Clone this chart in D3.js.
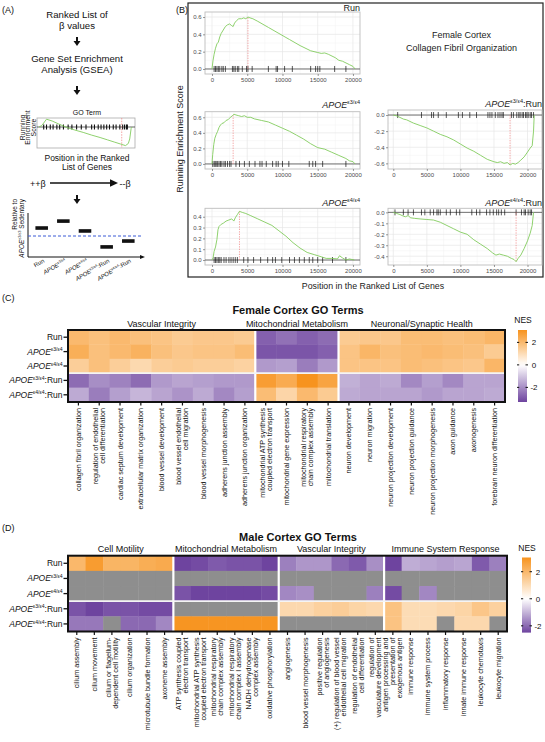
<!DOCTYPE html>
<html><head><meta charset="utf-8">
<script src="https://cdn.jsdelivr.net/npm/d3@7/dist/d3.min.js"></script>
<style>
html,body{margin:0;padding:0;background:#fff;}
svg{display:block;font-family:"Liberation Sans",Arial,Helvetica,sans-serif;}
</style></head><body>
<svg id="fig" width="545" height="742"></svg>
<script>
// ================= DATA =================
// Row labels shared by heatmaps (C, D)
const rowDefs = [{pre:"Run"},{apoe:"ε3/ε4"},{apoe:"ε4/ε4"},{apoe:"ε3/ε4",suf:":Run"},{apoe:"ε4/ε4",suf:":Run"}];

// Panel C – Female cortex
const femaleGroups = ["Vascular Integrity","Mitochondrial Metabolism","Neuronal/Synaptic Health"];
const femaleGroupSizes = [9,4,8];
const femaleTerms = [
 "collagen fibril organization","regulation of endothelial\ncell differentiation","cardiac septum development",
 "extracellular matrix organization","blood vessel development","blood vessel endothelial\ncell migration",
 "blood vessel morphogenesis","adherens junction assembly","adherens junction organization",
 "mitochondrial ATP synthesis\ncoupled electron transport","mitochondrial gene expression",
 "mitochondrial respiratory\nchain complex assembly","mitochondrial translation",
 "neuron development","neuron migration","neuron projection development","neuron projection guidance",
 "neuron projection morphogenesis","axon guidance","axonogenesis","forebrain neuron differentiation"];
const femaleRun    = [2.0,1.8,2.0,1.8,1.7,1.5,1.6,1.6,1.5, -2.8,-2.5,-2.8,-2.6, 1.5,1.6,1.6,1.9,1.9,1.8,1.9,2.1];
const femaleE34    = [2.3,1.8,2.0,2.2,1.8,1.6,1.7,1.7,1.9, -3.0,-3.0,-3.0,-2.8, 1.7,2.1,1.8,1.9,2.0,1.9,1.8,1.5];
const femaleE44    = [1.4,1.8,1.4,1.1,1.4,1.5,1.4,1.4,1.3, -1.8,-1.7,-2.3,-1.8, 1.7,1.7,1.7,1.9,1.8,1.7,1.6,2.1];
const femaleE34Run = [-2.6,-2.0,-2.2,-2.6,-1.8,-1.6,-1.7,-1.8,-1.8, 2.8,2.4,3.1,2.6, -1.4,-1.6,-1.5,-2.1,-1.7,-2.1,-1.6,-1.6];
const femaleE44Run = [-1.5,-2.3,-1.7,-1.3,-1.6,-1.9,-1.5,-2.1,-1.7, 1.9,1.2,2.0,1.5, -1.5,-1.6,-1.6,-1.6,-1.8,-1.6,-1.6,-1.5];
const femaleNESRange = [-3.3, 3.1];

// Panel D – Male cortex (null = not significant, grey)
const maleGroups = ["Cell Motility","Mitochondrial Metabolism","Vascular Integrity","Immune System Response"];
const maleGroupSizes = [6,6,6,7];
const maleTerms = [
 "cilium assembly","cilium movement","cilium or flagellum-\ndependent cell motility","cilium organization",
 "microtubule bundle formation","axoneme assembly",
 "ATP synthesis coupled\nelectron transport","mitochondrial ATP synthesis\ncoupled electron transport",
 "mitochondrial respiratory\nchain complex assembly","mitochondrial respiratory\nchain complex I assembly",
 "NADH dehydrogenase\ncomplex assembly","oxidative phosphorylation",
 "angiogenesis","blood vessel morphogenesis","positive regulation\nof angiogenesis",
 "(+) regulation of blood vessel\nendothelial cell migration","regulation of endothelial\ncell differentiation",
 "regulation of\nvasculature development",
 "antigen processing and\npresentation of\nexogenous antigen","immune response","immune system process",
 "inflammatory response","innate immune response","leukocyte chemotaxis","leukocyte migration"];
const maleRun    = [2.0,2.8,2.1,2.1,2.3,2.4, -2.6,-2.4,-2.2,-2.3,-2.3,-2.7, -1.7,-1.4,-1.4,-2.0,-2.2,-1.5, -2.5,-1.1,-1.2,-1.3,-1.2,-2.2,-1.7];
const maleE34    = [null,null,null,null,null,null, null,null,null,null,null,null, null,null,null,null,null,null, null,null,null,null,null,null,null];
const maleE44    = [null,null,null,null,null,null, -2.3,-2.5,-2.5,-2.6,-2.6,-2.4, -1.6,-1.5,null,null,null,-1.7, -2.4,null,-1.6,null,null,null,null];
const maleE34Run = [-2.3,-2.6,-2.3,-2.3,-2.4,-2.4, null,null,null,null,null,null, 1.1,1.1,1.3,1.4,1.2,1.1, 1.7,1.0,1.0,1.1,1.2,1.6,1.3];
const maleE44Run = [-1.8,-1.8,null,-2.0,-2.0,-1.6, 3.0,3.0,3.0,3.0,3.0,3.0, null,null,null,null,null,null, 1.7,1.0,1.0,null,1.1,1.1,null];
const maleNESRange = [-2.5, 3.05];

// Panel B – GSEA running enrichment score curves [rank, score]
const runCurve = [[0,0],[150,0.1],[300,0.17],[500,0.24],[700,0.29],[900,0.31],[1100,0.37],[1300,0.41],[1600,0.45],[1900,0.49],[2200,0.51],[2500,0.52],[2800,0.5],[3000,0.49],[3200,0.53],[3500,0.56],[3800,0.58],[4200,0.58],[4500,0.59],[4800,0.58],[5100,0.6],[5400,0.59],[5800,0.58],[6500,0.55],[8000,0.48],[9500,0.41],[11000,0.34],[12500,0.27],[14000,0.21],[15000,0.19],[15500,0.18],[16000,0.185],[16500,0.17],[17500,0.13],[18000,0.1],[18500,0.09],[19500,0.05],[20000,0.03],[20300,0]];
const runRug = [300,500,700,900,1100,1400,1600,1900,2900,3100,3300,3600,3800,4300,4900,5100,5700,8000,9100,9300,10300,11400,14000,14700,15000,15300,17400,19000];
const runPeak = [5100,0.6];

const e34Curve = [[0,0],[100,0.12],[250,0.25],[400,0.33],[600,0.38],[800,0.42],[1000,0.47],[1200,0.5],[1400,0.52],[1700,0.53],[2000,0.56],[2300,0.57],[2600,0.6],[2900,0.62],[3100,0.64],[3400,0.63],[3800,0.62],[4200,0.61],[4600,0.62],[5000,0.6],[5500,0.6],[6000,0.58],[7000,0.56],[8000,0.54],[9000,0.5],[10000,0.46],[11000,0.42],[12000,0.37],[13000,0.32],[14000,0.26],[15000,0.21],[16000,0.19],[17000,0.15],[18000,0.11],[19000,0.07],[19500,0.04],[20000,0.03],[20300,0]];
const e34Rug = [100,300,450,600,800,1000,1200,1400,1700,1900,2200,2500,2700,3400,3900,4600,5300,6100,6800,7100,7700,8600,9100,9400,10000,10900,13800,14300,14700,15700,19000];
const e34Peak = [3000,0.64];

const e34RunCurve = [[0,0],[500,-0.01],[1000,-0.03],[1500,-0.05],[2000,-0.06],[3000,-0.1],[4000,-0.13],[5000,-0.16],[6000,-0.2],[7000,-0.24],[8000,-0.27],[9000,-0.31],[10000,-0.36],[11000,-0.41],[12000,-0.45],[13000,-0.5],[14000,-0.55],[15000,-0.58],[15500,-0.59],[16000,-0.58],[16500,-0.6],[17000,-0.59],[17400,-0.62],[17800,-0.6],[18200,-0.61],[18600,-0.59],[19000,-0.56],[19500,-0.52],[20000,-0.46],[20400,-0.41],[20700,-0.38],[20900,-0.2],[21000,0]];
const e34RunRug = [650,4200,5700,6000,6700,7900,9700,10300,11400,12400,14100,14400,14700,15200,15600,15900,16200,16400,17600,17900,18400,18700,18900,19200,19400,19700,19900,20100,20400,20600,20900];
const e34RunPeak = [17400,-0.62];

const e44Curve = [[0,0],[150,0.02],[300,0.08],[500,0.12],[700,0.19],[850,0.28],[1000,0.31],[1300,0.33],[1600,0.34],[2000,0.36],[2400,0.37],[2800,0.38],[3100,0.36],[3300,0.39],[3600,0.42],[3900,0.45],[4300,0.44],[4800,0.43],[5500,0.41],[6500,0.38],[7500,0.35],[8500,0.32],[9500,0.27],[10500,0.22],[11500,0.16],[12500,0.11],[13500,0.07],[14500,0.05],[15500,0.03],[16200,0.015],[17000,0.015],[17800,0.01],[18100,0.04],[18500,0.02],[19000,0],[19500,0.01],[20200,0]];
const e44Rug = [300,500,700,900,1100,1300,1700,2000,2400,2700,3000,3300,3600,4500,5100,5900,6900,7900,8600,9000,9900,11000,11700,12400,13100,13800,14300,15000,15700,17100,19000];
const e44Peak = [3900,0.45];

const e44RunCurve = [[0,0],[500,-0.01],[1000,-0.02],[1500,-0.035],[1800,-0.04],[2200,-0.03],[2600,-0.05],[3200,-0.055],[4000,-0.06],[5000,-0.065],[6000,-0.07],[7000,-0.09],[8000,-0.12],[9000,-0.15],[10000,-0.18],[11000,-0.2],[12000,-0.25],[13000,-0.29],[14000,-0.33],[14800,-0.37],[15300,-0.39],[15800,-0.38],[16400,-0.39],[17000,-0.4],[17600,-0.42],[18000,-0.43],[18300,-0.45],[18600,-0.42],[19000,-0.39],[19500,-0.33],[20000,-0.26],[20400,-0.19],[20700,-0.12],[20900,0]];
const e44RunRug = [250,1500,2200,3000,4200,4700,5500,6000,6500,6700,7000,7900,8500,9400,9900,11700,12400,12900,13900,14400,14900,15400,15700,16100,16600,18300,19100,19500,19700,20100,20400,20600];
const e44RunPeak = [18300,-0.45];

const rankTicks = [0,5000,10000,15000,20000];

// Panel A – schematic data
const miniCurve = [[0,0],[3,0.05],[8,0.26],[14,0.2],[21,0.1],[30,-0.02],[38,-0.1],[47,-0.18],[56,-0.27],[65,-0.35],[73,-0.43],[80,-0.5],[87,-0.57],[92,-0.62],[95,-0.55],[96.5,-0.4],[98,-0.05],[99,0]];
const miniRug = [5,8,12,15,19,22,26,31,35,40,45,50,56,59,63,66,69,72,75,79,82,86,89,91,93,94];
const miniPeak = 88;
const aCats = ["Run","E34","E44","E34Run","E44Run"];
const aCatLabels = [{pre:"Run"},{apoe:"ε3/ε4"},{apoe:"ε4/ε4"},{apoe:"ε3/ε4",suf:":Run"},{apoe:"ε4/ε4",suf:":Run"}];
const aValues = [0.38,0.71,0.24,-0.52,-0.24];

// ================= DRAWING =================
const svg = d3.select("#fig");
const ORANGE="#f7931e", PURPLE="#6e449f", GRAY="#8e8e8e", GREEN="#82cc5e";

function rich(text, d, fs, supScale){
  supScale = supScale || 0.62;
  if (d.pre){ text.append("tspan").text(d.pre); return; }
  text.append("tspan").attr("font-style","italic").text("APOE");
  text.append("tspan").attr("font-size", fs*supScale).attr("dy", -fs*0.4).text(d.apoe);
  if (d.suf) text.append("tspan").attr("dy", fs*0.4).text(d.suf);
}
function txt(x,y,s,fs,anchor){
  return svg.append("text").attr("x",x).attr("y",y).attr("font-size",fs)
    .attr("text-anchor",anchor||"start").attr("fill","#111").text(s);
}

// panel letters
txt(2,13,"(A)",9); txt(176,13,"(B)",9); txt(2,301,"(C)",9); txt(2,531,"(D)",9);

// ---------- Panel A ----------
function downArrow(cx,y0,y1){
  svg.append("line").attr("x1",cx).attr("x2",cx).attr("y1",y0).attr("y2",y1-4).attr("stroke","#111").attr("stroke-width",2);
  svg.append("path").attr("d",`M${cx-3.5},${y1-5}L${cx+3.5},${y1-5}L${cx},${y1}Z`).attr("fill","#111");
}
txt(77,18,"Ranked List of",9.6,"middle");
txt(77,29,"β values",9.6,"middle");
downArrow(77,37,46);
txt(77,62,"Gene Set Enrichment",9.6,"middle");
txt(77,73,"Analysis (GSEA)",9.6,"middle");
downArrow(77,86,95);
txt(87,115,"GO Term",7,"middle");
// mini GSEA plot
{
  const mx = d3.scaleLinear().domain([0,100]).range([39,133]);
  const my = d3.scaleLinear().domain([-0.7,0.3]).range([148,118]);
  svg.append("rect").attr("x",37).attr("y",118).attr("width",98).attr("height",30).attr("fill","#fff").attr("stroke","#aaa").attr("stroke-width",0.8);
  svg.append("line").attr("x1",37).attr("x2",135).attr("y1",my(0)).attr("y2",my(0)).attr("stroke","#222").attr("stroke-width",0.7);
  svg.selectAll("line.mrug").data(miniRug).join("line").attr("class","mrug")
    .attr("x1",d=>mx(d)).attr("x2",d=>mx(d)).attr("y1",my(0)-2.5).attr("y2",my(0)+2.5).attr("stroke","#111").attr("stroke-width",1.1);
  svg.append("line").attr("x1",mx(miniPeak)).attr("x2",mx(miniPeak)).attr("y1",118).attr("y2",148)
    .attr("stroke","#f08080").attr("stroke-width",0.7).attr("stroke-dasharray","1.5,1.2");
  svg.append("path").datum(miniCurve).attr("d",d3.line().x(d=>mx(d[0])).y(d=>my(d[1])))
    .attr("fill","none").attr("stroke",GREEN).attr("stroke-width",0.9);
  ["Running","Enrichment","Score"].forEach((s,i)=>{
    svg.append("text").attr("transform",`translate(${24.5+i*5.8},127.5) rotate(-90)`).attr("text-anchor","middle")
      .attr("font-size",6.8).attr("fill","#111").text(s);
  });
}
txt(87,161,"Position in the Ranked",8.5,"middle");
txt(87,170,"List of Genes",8.5,"middle");
txt(30,186.5,"++β",9);
svg.append("line").attr("x1",50).attr("x2",111).attr("y1",183).attr("y2",183).attr("stroke","#111").attr("stroke-width",1.4);
svg.append("path").attr("d","M110,179.3L118,183L110,186.7Z").attr("fill","#111");
txt(119.5,186.5,"--β",9);
downArrow(77,195,204);
// relative bar schematic
{
  const ax = d3.scaleBand().domain(aCats).range([30,140]).paddingInner(0.42).paddingOuter(0.25);
  const ay = d3.scaleLinear().domain([-1,1]).range([257,215]);
  svg.append("line").attr("x1",28).attr("x2",28).attr("y1",213).attr("y2",257).attr("stroke","#111").attr("stroke-width",1);
  svg.append("line").attr("x1",28).attr("x2",141).attr("y1",257).attr("y2",257).attr("stroke","#111").attr("stroke-width",1);
  svg.append("path").attr("d","M140,255L145,257L140,259Z").attr("fill","#111");
  svg.append("line").attr("x1",28).attr("x2",142).attr("y1",ay(0)).attr("y2",ay(0)).attr("stroke","#3b5bd6").attr("stroke-width",1).attr("stroke-dasharray","3,2");
  svg.selectAll("rect.abar").data(aCats).join("rect").attr("class","abar")
    .attr("x",d=>ax(d)).attr("width",ax.bandwidth()).attr("y",(d,i)=>ay(aValues[i])-1.8).attr("height",3.6).attr("fill","#111");
  aCats.forEach((c,i)=>{
    const t = svg.append("text").attr("transform",`translate(${ax(c)+ax.bandwidth()*0.75},262) rotate(-30)`)
      .attr("text-anchor","end").attr("font-size",6).attr("fill","#111");
    rich(t,aCatLabels[i],6);
  });
  svg.append("text").attr("transform","translate(17,199) rotate(-90)").attr("text-anchor","end").attr("font-size",6.5).attr("fill","#111").text("Relative to");
  const t2 = svg.append("text").attr("transform","translate(23.5,199) rotate(-90)").attr("text-anchor","end").attr("font-size",6.5).attr("fill","#111");
  rich(t2,{apoe:"ε3/ε3",suf:" Sedentary"},6.5);
}

// ---------- Panel B ----------
svg.append("rect").attr("x",188).attr("y",3).attr("width",355).attr("height",274).attr("fill","none").attr("stroke","#222").attr("stroke-width",1.2);
svg.append("text").attr("transform","translate(183,139) rotate(-90)").attr("text-anchor","middle").attr("font-size",9).attr("fill","#222").text("Running Enrichment Score");
txt(373,289,"Position in the Ranked List of Genes",8.8,"middle").attr("fill","#222");
txt(461.5,38,"Female Cortex",9,"middle").attr("fill","#222");
txt(461.5,51,"Collagen Fibril Organization",9,"middle").attr("fill","#222");

function gseaPanel(o){
  const g = svg.append("g");
  const x = d3.scaleLinear().domain(o.xd).range([o.x0,o.x1]);
  const y = d3.scaleLinear().domain(o.yd).range([o.y1,o.y0]);
  g.append("rect").attr("x",o.x0).attr("y",o.y0).attr("width",o.x1-o.x0).attr("height",o.y1-o.y0).attr("fill","#fff");
  const step = o.yTicks[1]-o.yTicks[0];
  const yMinor = [o.yTicks[0]-step/2].concat(o.yTicks.map(t=>t+step/2)).filter(v=>v>o.yd[0]&&v<o.yd[1]);
  const xMinor = [-2500,2500,7500,12500,17500,22500].filter(v=>v>o.xd[0]&&v<o.xd[1]);
  g.selectAll("line.ymn").data(yMinor).join("line").attr("x1",o.x0).attr("x2",o.x1).attr("y1",d=>y(d)).attr("y2",d=>y(d)).attr("stroke","#f3f3f3").attr("stroke-width",0.5);
  g.selectAll("line.xmn").data(xMinor).join("line").attr("y1",o.y0).attr("y2",o.y1).attr("x1",d=>x(d)).attr("x2",d=>x(d)).attr("stroke","#f3f3f3").attr("stroke-width",0.5);
  g.selectAll("line.ymj").data(o.yTicks).join("line").attr("x1",o.x0).attr("x2",o.x1).attr("y1",d=>y(d)).attr("y2",d=>y(d)).attr("stroke","#e6e6e6").attr("stroke-width",0.7);
  g.selectAll("line.xmj").data(rankTicks).join("line").attr("y1",o.y0).attr("y2",o.y1).attr("x1",d=>x(d)).attr("x2",d=>x(d)).attr("stroke","#e6e6e6").attr("stroke-width",0.7);
  g.append("rect").attr("x",o.x0).attr("y",o.y0).attr("width",o.x1-o.x0).attr("height",o.y1-o.y0).attr("fill","none").attr("stroke","#bdbdbd").attr("stroke-width",0.9);
  g.append("line").attr("x1",o.x0).attr("x2",o.x1).attr("y1",y(0)).attr("y2",y(0)).attr("stroke","#3a3a3a").attr("stroke-width",0.7);
  g.selectAll("line.rug").data(o.rug).join("line").attr("x1",d=>x(d)).attr("x2",d=>x(d)).attr("y1",y(0)-3).attr("y2",y(0)+3).attr("stroke","#111").attr("stroke-width",0.7);
  g.append("line").attr("x1",x(o.peak[0])).attr("x2",x(o.peak[0])).attr("y1",y(0)).attr("y2",y(o.peak[1]))
    .attr("stroke","#f08080").attr("stroke-width",0.7).attr("stroke-dasharray","1.3,1.2");
  g.append("path").datum(o.curve).attr("d",d3.line().x(d=>x(d[0])).y(d=>y(d[1])))
    .attr("fill","none").attr("stroke",GREEN).attr("stroke-width",0.9);
  const ya = g.append("g").attr("transform",`translate(${o.x0},0)`)
    .call(d3.axisLeft(y).tickValues(o.yTicks).tickSize(2).tickPadding(1.5).tickFormat(d=>d.toFixed(1)));
  const xa = g.append("g").attr("transform",`translate(0,${o.y1})`)
    .call(d3.axisBottom(x).tickValues(rankTicks).tickSize(2).tickPadding(1.5).tickFormat(d3.format("d")));
  [ya,xa].forEach(a=>{
    a.select(".domain").remove();
    a.selectAll("line").attr("stroke","#555").attr("stroke-width",0.6);
    a.selectAll("text").attr("font-size",6).attr("fill","#4d4d4d");
    a.attr("font-family",null).attr("font-size",null);
  });
  const t = g.append("text").attr("x",o.x1).attr("y",o.ty).attr("text-anchor","end").attr("font-size",9).attr("fill","#222");
  rich(t,o.title,9);
}
const leftX = [-993,21000], rightX = [-790,22160];
gseaPanel({x0:205,x1:360,y0:12,y1:74,xd:leftX,yd:[-0.058,0.658],yTicks:[0,0.2,0.4,0.6],curve:runCurve,rug:runRug,peak:runPeak,title:{pre:"Run"},ty:11});
gseaPanel({x0:205,x1:360,y0:111.7,y1:169,xd:leftX,yd:[-0.065,0.672],yTicks:[0,0.2,0.4,0.6],curve:e34Curve,rug:e34Rug,peak:e34Peak,title:{apoe:"ε3/ε4"},ty:108});
gseaPanel({x0:388,x1:542,y0:110,y1:169,xd:rightX,yd:[-0.67,0.0625],yTicks:[-0.6,-0.4,-0.2,0],curve:e34RunCurve,rug:e34RunRug,peak:e34RunPeak,title:{apoe:"ε3/ε4",suf:":Run"},ty:107});
gseaPanel({x0:205,x1:360,y0:208.3,y1:265,xd:leftX,yd:[-0.046,0.478],yTicks:[0,0.1,0.2,0.3,0.4],curve:e44Curve,rug:e44Rug,peak:e44Peak,title:{apoe:"ε4/ε4"},ty:206});
gseaPanel({x0:388,x1:542,y0:208.3,y1:265,xd:rightX,yd:[-0.48,0.037],yTicks:[-0.4,-0.3,-0.2,-0.1,0],curve:e44RunCurve,rug:e44RunRug,peak:e44RunPeak,title:{apoe:"ε4/ε4",suf:":Run"},ty:206});

// ---------- Heatmaps (C, D) ----------
let gradId = 0;
function heatmap(o){
  const g = svg.append("g");
  const n = o.terms.length;
  const x = d3.scaleBand().domain(d3.range(n)).range([o.x0,o.x1]);
  const y = d3.scaleBand().domain(d3.range(o.values.length)).range([o.y0,o.y1]);
  const color = d3.scaleLinear().domain([o.range[0],0,o.range[1]]).range([PURPLE,"#ffffff",ORANGE]).clamp(true);
  const cells = o.values.flatMap((row,ri)=>row.map((v,ci)=>({ri,ci,v})));
  g.selectAll("rect.cell").data(cells).join("rect").attr("class","cell")
    .attr("x",d=>x(d.ci)).attr("y",d=>y(d.ri)).attr("width",x.bandwidth()+0.4).attr("height",y.bandwidth()+0.4)
    .attr("fill",d=>d.v==null?GRAY:color(d.v));
  let acc=0; const bounds=[];
  o.groupSizes.forEach(s=>{bounds.push([acc,acc+s]); acc+=s;});
  bounds.slice(1).forEach(b=>{
    g.append("line").attr("x1",x(b[0])).attr("x2",x(b[0])).attr("y1",o.y0).attr("y2",o.y1).attr("stroke","#fff").attr("stroke-width",2.2);
  });
  g.append("line").attr("x1",o.x0).attr("x2",o.x1).attr("y1",y(3)).attr("y2",y(3)).attr("stroke","#f4f4f4").attr("stroke-width",1.8);
  g.append("rect").attr("x",o.x0).attr("y",o.y0).attr("width",o.x1-o.x0).attr("height",o.y1-o.y0)
    .attr("fill","none").attr("stroke","#111").attr("stroke-width",2);
  bounds.forEach((b,i)=>{
    const cx = (x(b[0]) + x(b[1]-1) + x.bandwidth())/2;
    g.append("text").attr("x",cx).attr("y",o.y0-3.5).attr("text-anchor","middle").attr("font-size",9).attr("fill","#111").text(o.groups[i]);
  });
  g.append("text").attr("x",298).attr("y",o.titleY).attr("text-anchor","middle").attr("font-size",11).attr("font-weight","bold").attr("fill","#111").text(o.title);
  rowDefs.forEach((d,ri)=>{
    const cy = y(ri)+y.bandwidth()/2;
    g.append("line").attr("x1",o.x0-4.5).attr("x2",o.x0).attr("y1",cy).attr("y2",cy).attr("stroke","#111").attr("stroke-width",1.3);
    const t = g.append("text").attr("x",o.x0-5.5).attr("y",cy+3).attr("text-anchor","end").attr("font-size",8.5).attr("fill","#111");
    rich(t,d,8.5,0.6);
  });
  o.terms.forEach((term,ci)=>{
    const cx = x(ci)+x.bandwidth()/2;
    g.append("line").attr("x1",cx).attr("x2",cx).attr("y1",o.y1).attr("y2",o.y1+3.5).attr("stroke","#111").attr("stroke-width",1.2);
    const lines = term.split("\n");
    lines.forEach((ln,i)=>{
      const lx = cx + (i-(lines.length-1)/2)*7 + 2.5;
      g.append("text").attr("transform",`translate(${lx},${o.y1+6}) rotate(-90)`).attr("text-anchor","end")
        .attr("font-size",7.2).attr("fill","#111").text(ln);
    });
  });
  const id = "grad"+(gradId++);
  const lg = svg.append("defs").append("linearGradient").attr("id",id).attr("x1",0).attr("y1",1).attr("x2",0).attr("y2",0);
  d3.range(0,1.0001,0.05).forEach(t=>{
    lg.append("stop").attr("offset",t).attr("stop-color",color(o.range[0]+t*(o.range[1]-o.range[0])));
  });
  const ly = d3.scaleLinear().domain(o.range).range([o.ly1,o.ly0]);
  g.append("rect").attr("x",o.lx).attr("y",o.ly0).attr("width",9).attr("height",o.ly1-o.ly0).attr("fill",`url(#${id})`);
  [-2,0,2].forEach(v=>{
    g.append("line").attr("x1",o.lx+7.5).attr("x2",o.lx+10).attr("y1",ly(v)).attr("y2",ly(v)).attr("stroke","#111").attr("stroke-width",1);
    g.append("line").attr("x1",o.lx-1).attr("x2",o.lx+1.2).attr("y1",ly(v)).attr("y2",ly(v)).attr("stroke","#111").attr("stroke-width",1);
    g.append("text").attr("x",o.lx+16).attr("y",ly(v)+3).attr("text-anchor","middle").attr("font-size",8).attr("fill","#111").text(v);
  });
  g.append("text").attr("x",o.lx+5).attr("y",o.ly0-7).attr("text-anchor","middle").attr("font-size",8.5).attr("fill","#111").text("NES");
}
heatmap({x0:68,x1:505,y0:330,y1:402,terms:femaleTerms,groups:femaleGroups,groupSizes:femaleGroupSizes,
  values:[femaleRun,femaleE34,femaleE44,femaleE34Run,femaleE44Run],range:femaleNESRange,
  title:"Female Cortex GO Terms",titleY:314,lx:518,ly0:330,ly1:402});
heatmap({x0:68,x1:507,y0:555.7,y1:631.5,terms:maleTerms,groups:maleGroups,groupSizes:maleGroupSizes,
  values:[maleRun,maleE34,maleE44,maleE34Run,maleE44Run],range:maleNESRange,
  title:"Male Cortex GO Terms",titleY:540.5,lx:522,ly0:557.5,ly1:632.6});
</script></body></html>
